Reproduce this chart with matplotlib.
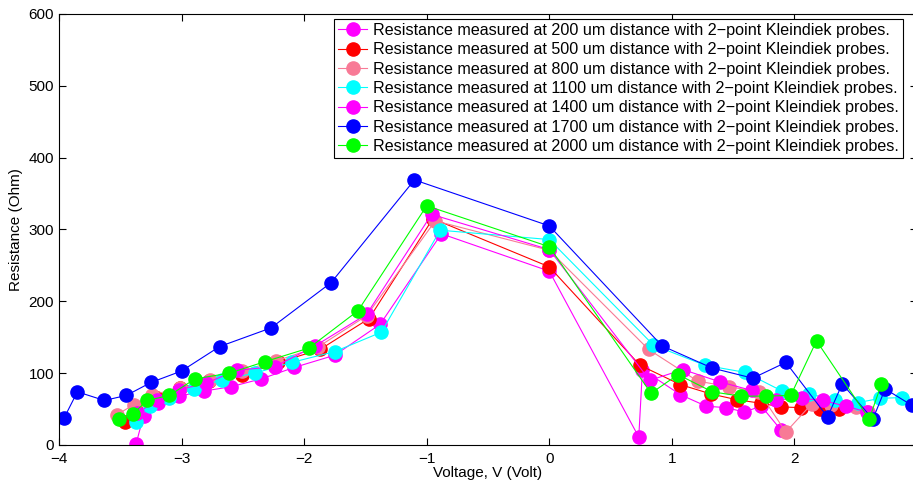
import numpy as np
import matplotlib
matplotlib.use("Agg")
import matplotlib.pyplot as plt

plt.rcParams['font.family'] = ['Liberation Sans', 'DejaVu Sans']

# distances (um) used for the legend
distances = [200, 500, 800, 1100, 1400, 1700, 2000]
colors = ['#FF00FF', '#FF0000', '#F87A96', '#00FFFF', '#FF00FF', '#0000FF', '#00FF00']

# voltage / resistance
v_200 = [-3.37, -3.31, -3.19, -3.02, -2.82, -2.60, -2.35, -2.08, -1.75, -1.38, -0.88, 0.0,
         0.73, 0.76, 1.07, 1.28, 1.44, 1.59, 1.73, 1.89]
r_200 = [2, 41, 58, 68, 75, 81, 92, 108, 125, 168, 294, 242,
         11, 105, 70, 54, 52, 46, 54, 21]

v_500 = [-3.46, -3.38, -3.20, -3.01, -2.78, -2.51, -2.21, -1.87, -1.47, -0.95, 0.0,
         0.74, 1.07, 1.32, 1.53, 1.73, 1.89, 2.05, 2.21, 2.36]
r_500 = [32, 52, 65, 80, 89, 98, 115, 133, 176, 315, 248,
         111, 84, 71, 63, 58, 53, 52, 50, 50]

v_800 = [-3.53, -3.39, -3.24, -3.01, -2.77, -2.51, -2.23, -1.89, -1.49, -0.93, 0.0,
         0.81, 1.21, 1.47, 1.71, 1.93, 2.14, 2.30, 2.50, 2.60]
r_800 = [42, 56, 70, 79, 90, 103, 117, 136, 180, 312, 271,
         133, 89, 81, 74, 18, 57, 55, 53, 46]

v_1100 = [-3.37, -3.26, -3.10, -2.90, -2.67, -2.40, -2.10, -1.75, -1.37, -0.89, 0.0,
          0.85, 1.27, 1.60, 1.90, 2.12, 2.33, 2.52, 2.70, 2.88]
r_1100 = [32, 54, 66, 78, 91, 100, 115, 130, 157, 299, 286,
          139, 111, 101, 75, 71, 63, 59, 65, 66]

v_1400 = [-3.36, -3.20, -3.02, -2.80, -2.55, -2.24, -1.91, -1.49, -0.96, 0.0,
          0.82, 1.09, 1.39, 1.65, 1.85, 2.06, 2.23, 2.42, 2.59]
r_1400 = [45, 62, 77, 86, 104, 109, 138, 182, 321, 272,
          90, 105, 88, 76, 63, 65, 62, 54, 46]

v_1700 = [-3.96, -3.85, -3.63, -3.45, -3.25, -3.00, -2.69, -2.27, -1.78, -1.10, 0.0,
          0.92, 1.33, 1.66, 1.93, 2.27, 2.39, 2.64, 2.74, 2.96]
r_1700 = [37, 74, 62, 69, 87, 103, 137, 163, 226, 369, 305,
          138, 107, 93, 115, 39, 85, 36, 78, 55]

v_2000 = [-3.51, -3.40, -3.28, -3.10, -2.89, -2.61, -2.32, -1.96, -1.56, -1.00, 0.0,
          0.83, 1.05, 1.33, 1.56, 1.77, 1.97, 2.18, 2.61, 2.71]
r_2000 = [36, 43, 62, 69, 92, 100, 116, 135, 187, 333, 276,
          72, 98, 74, 68, 68, 69, 145, 36, 85]

voltages = [v_200, v_500, v_800, v_1100, v_1400, v_1700, v_2000]
resistances = [r_200, r_500, r_800, r_1100, r_1400, r_1700, r_2000]

fig = plt.figure(figsize=(9.13, 4.86), dpi=100)
# right edge of the axes sits just past the picture border, like the original crop
ax = fig.add_axes([0.0646, 0.0844, 0.9398, 0.8868])

for v, r, d, c in zip(voltages, resistances, distances, colors):
    ax.plot(v, r, '-o', color=c, markerfacecolor=c, markeredgecolor=c,
            markersize=9.5, linewidth=0.8,
            label=f"Resistance measured at {d} um distance with 2\u2212point Kleindiek probes.")

ax.set_xlim(-4, 3)
ax.set_ylim(0, 600)
ax.set_xticks([-4, -3, -2, -1, 0, 1, 2])
ax.set_xticklabels(['\u22124', '\u22123', '\u22122', '\u22121', '0', '1', '2'])
ax.set_yticks(range(0, 601, 100))
ax.tick_params(direction='in', top=True, right=True, labelsize=11, length=5, width=0.8)
ax.tick_params(axis='x', pad=5)
for s in ax.spines.values():
    s.set_linewidth(0.8)

ax.set_xlabel('Voltage, V (Volt)', fontsize=11, labelpad=0)
ax.set_ylabel('Resistance (Ohm)', fontsize=11, labelpad=4)

leg = ax.legend(loc='upper right', bbox_to_anchor=(0.9837, 0.9884), borderaxespad=0,
                fontsize=11.6, frameon=True, fancybox=False,
                edgecolor='black', framealpha=1,
                handlelength=1.8, handletextpad=0.35, labelspacing=0.27, borderpad=0.25)
leg.get_frame().set_linewidth(0.8)

fig.savefig('out.png', dpi=100)
